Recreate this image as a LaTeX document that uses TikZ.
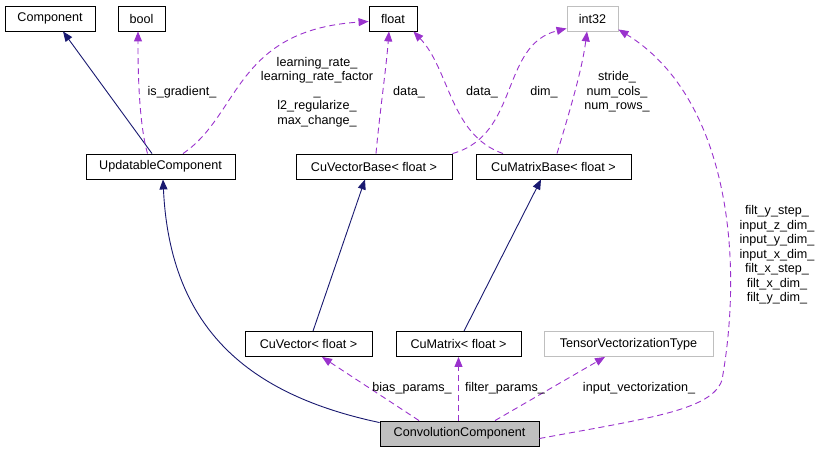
\documentclass[tikz,border=0pt]{standalone}
\usepackage{fontspec}
\setmainfont{Liberation Sans}
\usetikzlibrary{arrows.meta}
\definecolor{inhblue}{HTML}{191970}
\definecolor{mempurple}{HTML}{9A32CD}
\definecolor{extgrey}{HTML}{BFBFBF}
\definecolor{selfgrey}{HTML}{BFBFBF}

\begin{document}
\begin{tikzpicture}[x=1pt,y=-1pt,
  cls/.style={draw=black,line width=0.9pt,minimum height=25pt,inner sep=0pt,font=\fontsize{12.6}{14.5}\selectfont},
  ext/.style={cls,draw=extgrey},
  inh/.style={draw=inhblue,line width=0.9pt,-{Triangle[length=10pt,width=8pt]}},
  mem/.style={draw=mempurple,line width=0.9pt,dash pattern=on 6pt off 4pt,-{Triangle[length=10pt,width=8pt]}},
  lbl/.style={font=\fontsize{12.6}{14.5}\selectfont,align=center,inner sep=0pt}]
\useasboundingbox (0,0) rectangle (821,452);
% classes
\node[cls,minimum width=90pt] (comp) at (50,18.5) {Component};
\node[cls,minimum width=47pt] (bool) at (141.5,18.5) {bool};
\node[cls,minimum width=48pt] (flt) at (393,18.5) {float};
\node[ext,minimum width=51pt] (int) at (592.5,18.5) {int32};
\node[cls,minimum width=149pt] (upd) at (160.5,166.5) {UpdatableComponent};
\node[cls,minimum width=156pt] (cvb) at (374,166.5) {CuVectorBase< float >};
\node[cls,minimum width=155pt] (cmb) at (553.5,166.5) {CuMatrixBase< float >};
\node[cls,minimum width=127pt] (cv) at (308.5,344) {CuVector< float >};
\node[cls,minimum width=125pt] (cm) at (458.5,344) {CuMatrix< float >};
\node[ext,minimum width=169pt] (tvt) at (628.5,344) {TensorVectorizationType};
\node[cls,minimum width=159pt,fill=selfgrey] (conv) at (459.5,433.5) {ConvolutionComponent};
% inheritance
\draw[inh] ([xshift=-8.5pt]upd.north) -- ([xshift=13pt]comp.south);
\draw[inh] ([xshift=4.5pt]cv.north) -- ([xshift=-9pt]cvb.south);
\draw[inh] ([xshift=5.5pt]cm.north) -- ([xshift=-12.5pt]cmb.south);
\draw[inh] ([yshift=-2pt]conv.north west) .. controls (250,395) and (170,330) .. ([xshift=2.5pt]upd.south);
% members
\draw[mem] ([xshift=-13pt]upd.north) .. controls (138,120) and (138,60) .. ([xshift=-3.5pt]bool.south);
\draw[mem] ([xshift=22.5pt]upd.north) .. controls (240,115) and (235,30) .. ([yshift=-3pt]flt.west);
\draw[mem] ([xshift=2pt]cvb.north) .. controls (380,110) and (386,70) .. ([xshift=-4pt]flt.south);
\draw[mem] ([xshift=-50.5pt]cmb.north) .. controls (450,135) and (450,70) .. ([xshift=-4pt]flt.south east);
\draw[mem] (cvb.north east) .. controls (520,135) and (500,45) .. ([yshift=3pt]int.south west);
\draw[mem] ([xshift=3.5pt]cmb.north) .. controls (570,110) and (582,70) .. ([xshift=-5.5pt]int.south);
\draw[mem] ([yshift=-5pt]conv.east) .. controls (650,418) and (712,410) .. (722,380)
  .. controls (745,250) and (725,95) .. ([yshift=2pt]int.south east);
\draw[mem] ([xshift=-40.5pt]conv.north) -- ([xshift=13.5pt]cv.south);
\draw[mem] ([xshift=-1pt]conv.north) -- (cm.south);
\draw[mem] ([xshift=35.5pt]conv.north) -- ([xshift=-23.5pt]tvt.south);
% labels
\node[lbl] (l-grad) at (182,92) {is\_gradient\_};
\node[lbl] (l-rate) at (317,92) {learning\_rate\_\\learning\_rate\_factor\\\_\\l2\_regularize\_\\max\_change\_};
\node[lbl] (l-vdata) at (409,92) {data\_};
\node[lbl] (l-mdata) at (482,92) {data\_};
\node[lbl] (l-dim) at (544,92) {dim\_};
\node[lbl] (l-stride) at (617,92) {stride\_\\num\_cols\_\\num\_rows\_};
\node[lbl] (l-filt) at (777,255) {filt\_y\_step\_\\input\_z\_dim\_\\input\_y\_dim\_\\input\_x\_dim\_\\filt\_x\_step\_\\filt\_x\_dim\_\\filt\_y\_dim\_};
\node[lbl] (l-bias) at (412,388) {bias\_params\_};
\node[lbl] (l-fparams) at (505,388) {filter\_params\_};
\node[lbl] (l-vec) at (639,388) {input\_vectorization\_};
\end{tikzpicture}
\end{document}
